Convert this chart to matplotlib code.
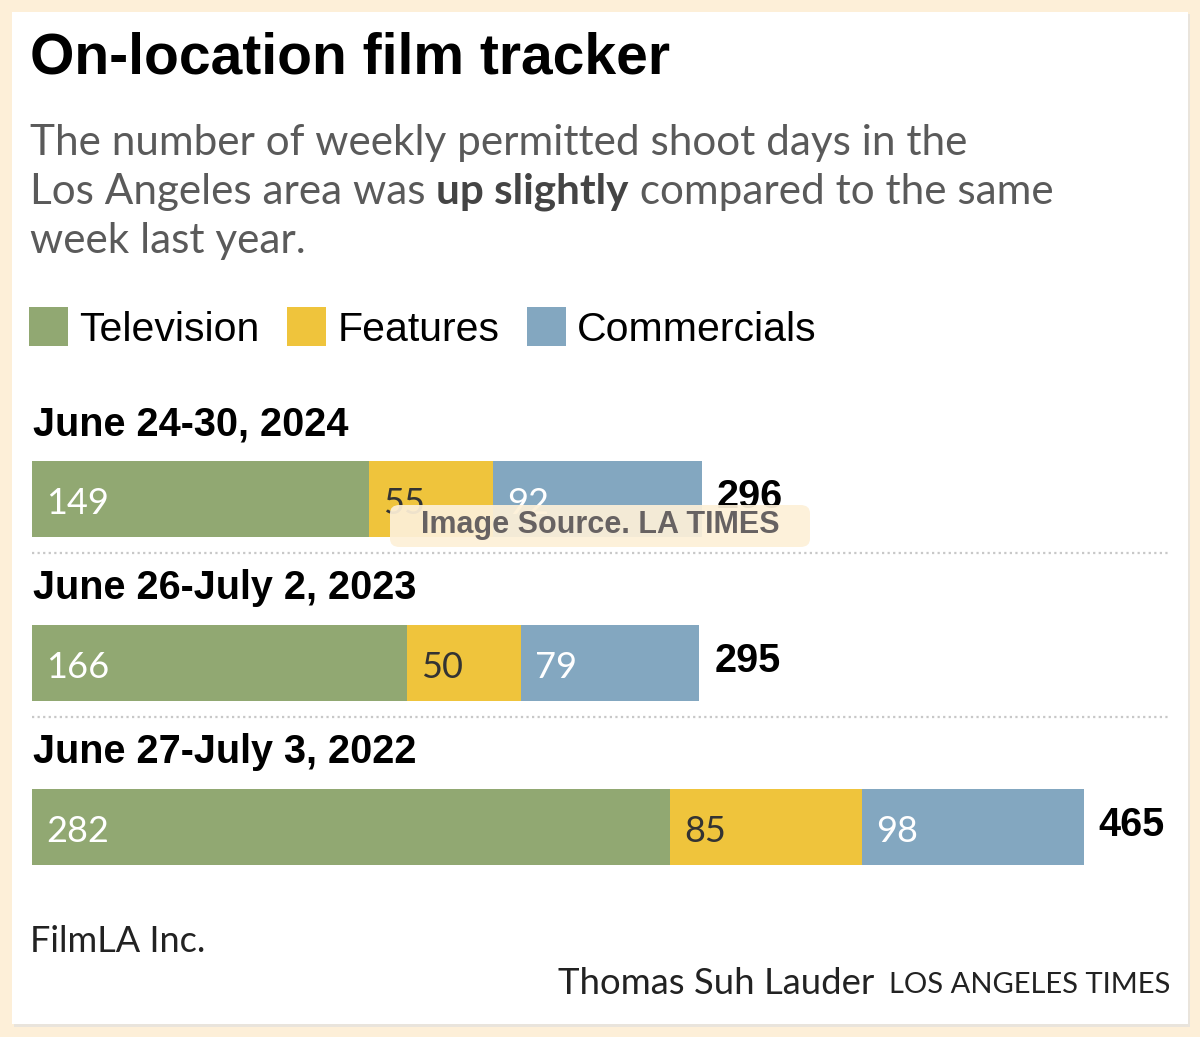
import matplotlib.pyplot as plt
from matplotlib.patches import Rectangle, FancyBboxPatch
import numpy as np

W, H = 1200, 1037

weeks = ['June 24-30, 2024', 'June 26-July 2, 2023', 'June 27-July 3, 2022']
television = [149, 166, 282]
features = [55, 50, 85]
commercials = [92, 79, 98]
series_names = ['Television', 'Features', 'Commercials']
colors = ['#91a872', '#efc43c', '#83a7c0']
label_colors = ['white', '#333333', 'white']

totals = [a + b + c for a, b, c in zip(television, features, commercials)]

fig = plt.figure(figsize=(W / 100, H / 100), dpi=100)
fig.patch.set_facecolor('#fdefd8')

def fx(x):
    return x / W

def fy(y):
    return 1 - y / H

# white panel with soft edge (behind the axes)
fig.patches.append(Rectangle((fx(14), fy(1027)), fx(1176), 1013 / H,
                             transform=fig.transFigure, facecolor='#e9e4dc', edgecolor='none', zorder=-2))
fig.patches.append(Rectangle((fx(12), fy(1024)), fx(1176), 1012 / H,
                             transform=fig.transFigure, facecolor='white', edgecolor='none', zorder=-1))

# title / subtitle
fig.text(fx(30), fy(59), 'On-location film tracker', fontsize=41, fontweight='bold',
         family='Liberation Sans', va='center', ha='left', color='black')

sub_kw = dict(fontsize=30.4, family='Lato', color='#5a5a5a', va='center', ha='left')
fig.text(fx(30), fy(143), 'The number of weekly permitted shoot days in the', **sub_kw)
fig.text(fx(30), fy(241), 'week last year.', **sub_kw)

renderer = fig.canvas.get_renderer()
t1 = fig.text(fx(30), fy(192), 'Los Angeles area was ', **sub_kw)
x_px = t1.get_window_extent(renderer).x1
t2 = fig.text(x_px / W, fy(192), 'up slightly', fontsize=30.4, family='Lato', fontweight='bold',
              color='#444444', va='center', ha='left')
x_px = t2.get_window_extent(renderer).x1
fig.text(x_px / W, fy(192), ' compared to the same', **sub_kw)

# legend
x_px = 29
for name, col in zip(series_names, colors):
    fig.patches.append(Rectangle((fx(x_px), fy(346)), 39 / W, 39 / H, transform=fig.transFigure,
                                 facecolor=col, edgecolor='none'))
    t = fig.text(fx(x_px + 50), fy(330), name, fontsize=29.5, family='Liberation Sans',
                 color='black', va='center', ha='left')
    x_px = t.get_window_extent(renderer).x1 + 28

# bars
px_per_unit = 2.262
ax = fig.add_axes([fx(32), fy(909), fx(1156), 492 / H])
ax.set_xlim(0, 1156 / px_per_unit)
ax.set_ylim(2.5, -0.5)
ax.axis('off')

y = np.arange(len(weeks))
left = np.zeros(len(weeks))
for vals, col, lc in zip([television, features, commercials], colors, label_colors):
    ax.barh(y, vals, left=left, height=0.463, color=col, edgecolor='none')
    for yi, v, l in zip(y, vals, left):
        ax.text(l + 14 / px_per_unit, yi + 0.03, str(v), fontsize=26, family='Lato',
                color=lc, va='center', ha='left')
    left = left + np.array(vals)

for yi, tot in zip(y, totals):
    ax.text(tot + 15 / px_per_unit, yi - 0.01, str(tot), fontsize=28.5, fontweight='bold',
            family='Liberation Sans', color='black', va='center', ha='left')

for yi, wk in zip(y, weeks):
    ax.text(1 / px_per_unit, yi - 0.455, wk, fontsize=28.5, fontweight='bold',
            family='Liberation Sans', color='black', va='center', ha='left')

for yi in y[:-1]:
    ax.plot([0, 1136 / px_per_unit], [yi + 0.33, yi + 0.33], color='#c8c8c8',
            linestyle=(0, (1, 1.5)), linewidth=1.6)

# watermark
fig.patches.append(FancyBboxPatch((fx(390), fy(547)), 420 / W, 42 / H,
                                  boxstyle='round,pad=0,rounding_size=0.008',
                                  transform=fig.transFigure, facecolor='#fdf0d8', alpha=0.93,
                                  edgecolor='none', zorder=5))
fig.text(fx(600), fy(525), 'Image Source. LA TIMES', fontsize=22, fontweight='bold',
         family='Liberation Sans', color='#676262', va='center', ha='center', zorder=6)

# footer
fig.text(fx(30), fy(942), 'FilmLA Inc.', fontsize=26, family='Lato',
         color='#222222', va='center', ha='left')
fig.text(fx(874), fy(983), 'Thomas Suh Lauder', fontsize=26.3, family='Lato',
         color='#222222', va='center', ha='right')
fig.text(fx(1170), fy(985), 'LOS ANGELES TIMES', fontsize=21, family='Lato',
         color='#222222', va='center', ha='right')

fig.savefig('out.png', dpi=100, facecolor=fig.get_facecolor())
